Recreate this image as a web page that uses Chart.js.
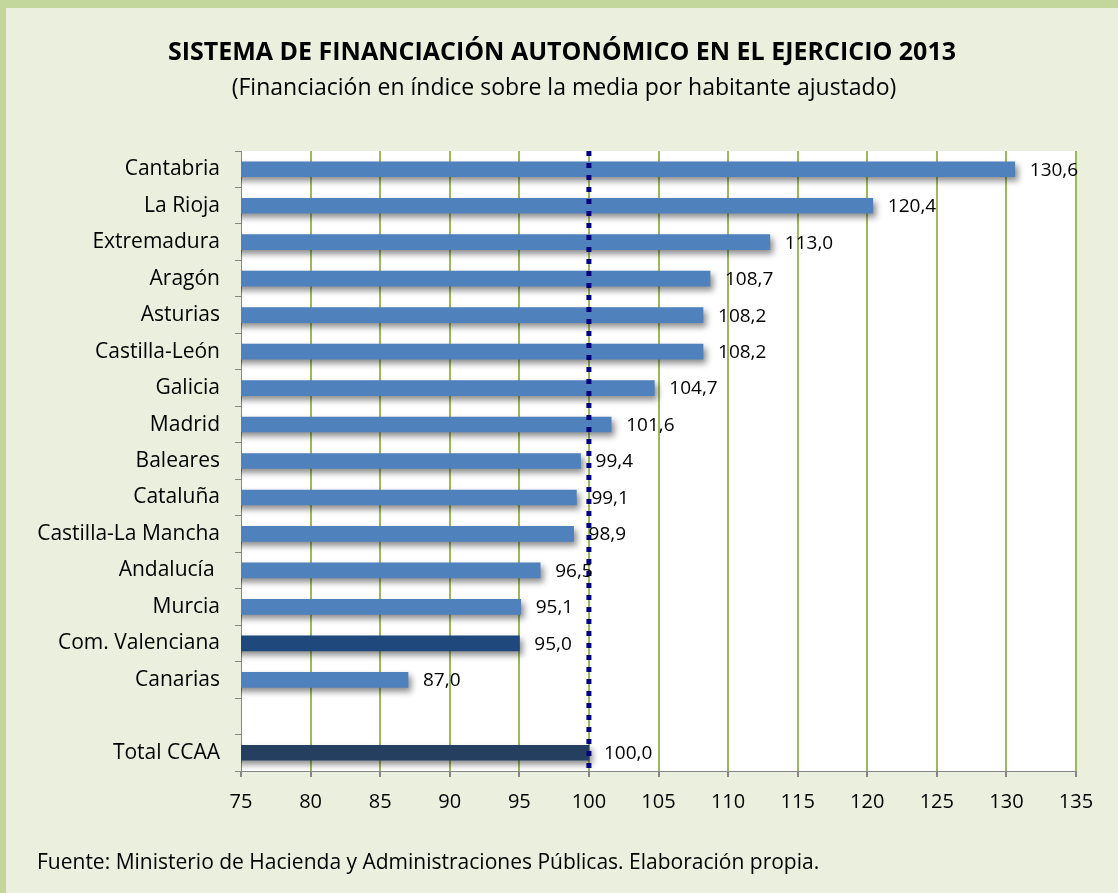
<!DOCTYPE html>
<html>
<head>
<meta charset="utf-8">
<script src="https://cdn.jsdelivr.net/npm/chart.js@4/dist/chart.umd.min.js"></script>
<style>
  html, body { margin: 0; padding: 0; }
  body { width: 1118px; height: 893px; background: #EBF0DE; overflow: hidden; }
  #marco {
    position: absolute; left: 0; top: 0;
    width: 1112px; height: 885px;
    border-top: 8px solid #C3D69B;
    border-left: 6px solid #C3D69B;
    background: #EBF0DE;
  }
  canvas { display: block; }
</style>
</head>
<body>
<div id="marco"><canvas id="grafico" width="1112" height="885"></canvas></div>
<script>
// datos del gráfico
const regiones = ['Cantabria', 'La Rioja', 'Extremadura', 'Aragón', 'Asturias', 'Castilla-León', 'Galicia', 'Madrid',
  'Baleares', 'Cataluña', 'Castilla-La Mancha', 'Andalucía ', 'Murcia', 'Com. Valenciana', 'Canarias', '', 'Total CCAA'];
const indices = [130.6, 120.4, 113.0, 108.7, 108.2, 108.2, 104.7, 101.6, 99.4, 99.1, 98.9, 96.5, 95.1, 95.0, 87.0, null, 100.0];
const ejeMin = 75;
const ejeMax = 135;
const ejePaso = 5;
const media = 100;

const titulo = 'SISTEMA DE FINANCIACIÓN AUTONÓMICO EN EL EJERCICIO 2013';
const subtitulo = '(Financiación en índice sobre la media por habitante ajustado)';
const fuente = 'Fuente: Ministerio de Hacienda y Administraciones Públicas. Elaboración propia.';

const FUENTE = '"Open Sans", Lato, sans-serif';

const colorBarra = (nombre) => {
  if (nombre === 'Com. Valenciana') return '#1F497D';
  if (nombre === 'Total CCAA') return '#243F60';
  return '#4F81BD';
};

const formato = (v) => v.toFixed(1).replace('.', ',');

// fondo blanco del área de trazado
const fondoPlot = {
  id: 'fondoPlot',
  beforeDraw(chart) {
    const { ctx, chartArea: a } = chart;
    ctx.save();
    ctx.fillStyle = '#FFFFFF';
    ctx.fillRect(a.left, a.top, a.right - a.left, a.bottom - a.top);
    ctx.restore();
  }
};

// sombra de las barras, línea de la media y etiquetas
const extras = {
  id: 'extras',
  beforeDatasetsDraw(chart) {
    const ctx = chart.ctx;
    ctx.save();
    ctx.shadowColor = 'rgba(0,0,0,0.45)';
    ctx.shadowBlur = 6;
    ctx.shadowOffsetX = 3;
    ctx.shadowOffsetY = 4;
  },
  afterDatasetsDraw(chart) {
    const { ctx, chartArea: a, scales } = chart;
    ctx.restore();

    // linea punteada en 100
    const xm = scales.x.getPixelForValue(media);
    ctx.save();
    ctx.strokeStyle = '#000080';
    ctx.lineWidth = 5;
    ctx.setLineDash([5, 7]);
    ctx.beginPath();
    ctx.moveTo(xm, a.top);
    ctx.lineTo(xm, a.bottom);
    ctx.stroke();
    ctx.restore();

    // etiquetas de valor
    const meta = chart.getDatasetMeta(0);
    ctx.save();
    ctx.font = '19px ' + FUENTE;
    ctx.fillStyle = '#000000';
    ctx.textAlign = 'left';
    ctx.textBaseline = 'middle';
    meta.data.forEach((bar, i) => {
      const v = indices[i];
      if (v === null) return;
      ctx.fillText(formato(v), bar.x + 15, bar.y + 1);
    });
    ctx.restore();
  },
  afterDraw(chart) {
    const ctx = chart.ctx;
    ctx.save();
    ctx.fillStyle = '#000000';
    ctx.textBaseline = 'middle';
    ctx.textAlign = 'center';
    ctx.font = 'bold 25px ' + FUENTE;
    ctx.fillText(titulo, 556, 45);
    ctx.font = '23px ' + FUENTE;
    ctx.fillText(subtitulo, 558, 80);
    ctx.textAlign = 'left';
    ctx.font = '21px ' + FUENTE;
    ctx.fillText(fuente, 31, 855);
    ctx.restore();
  }
};

const config = {
  type: 'bar',
  data: {
    labels: regiones,
    datasets: [{
      data: indices,
      backgroundColor: regiones.map(colorBarra),
      barThickness: 15,
      borderWidth: 0
    }]
  },
  options: {
    indexAxis: 'y',
    responsive: false,
    animation: false,
    layout: { padding: { top: 143, right: 42, left: 0, bottom: 0 } },
    plugins: {
      legend: { display: false },
      tooltip: { enabled: false }
    },
    scales: {
      x: {
        min: ejeMin,
        max: ejeMax,
        ticks: {
          stepSize: ejePaso,
          color: '#000000',
          font: { family: FUENTE, size: 20 },
          padding: 13
        },
        grid: {
          color: (c) => (c.tick && c.tick.value === ejeMin ? 'rgba(0,0,0,0)' : '#9BBB59'),
          lineWidth: 2,
          tickColor: '#868686',
          tickLength: 6
        },
        border: { color: '#868686', width: 1 },
        afterFit(scale) { scale.height = 122; }
      },
      y: {
        ticks: {
          color: '#000000',
          font: { family: FUENTE, size: 21 },
          padding: 15,
          autoSkip: false
        },
        grid: {
          drawOnChartArea: false,
          offset: true,
          color: '#868686',
          tickLength: 6
        },
        border: { color: '#868686', width: 1 },
        afterFit(scale) { scale.width = 235; }
      }
    }
  },
  plugins: [fondoPlot, extras]
};

const myChart = new Chart(document.getElementById('grafico'), config);
</script>
</body>
</html>
